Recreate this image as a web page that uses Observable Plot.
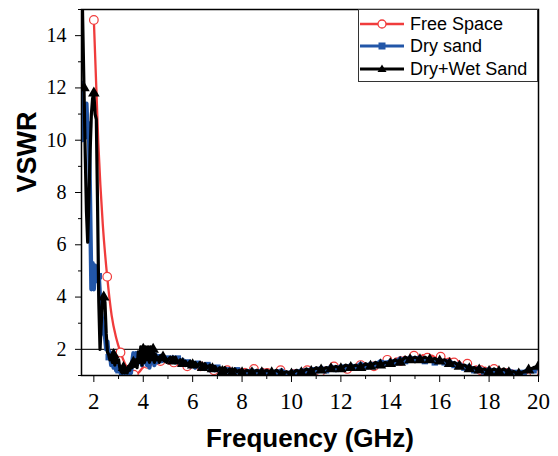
<!DOCTYPE html>
<html><head><meta charset="utf-8">
<script src="https://cdn.jsdelivr.net/npm/d3@7"></script>
<script src="https://cdn.jsdelivr.net/npm/@observablehq/plot@0.6"></script>
<style>
body{margin:0;background:#fff;}
#wrap{position:relative;width:558px;height:456px;}
#legend{position:absolute;left:358px;top:9px;width:180px;height:73px;border:1px solid #333;box-sizing:border-box;background:#fff;font-family:"Liberation Sans",Arial,sans-serif;font-size:18px;color:#000;}
.row{position:absolute;left:1px;height:22px;display:flex;align-items:center;white-space:nowrap;}
.row span{margin-left:6px;}
</style></head>
<body><div id="wrap"><div id="legend"></div></div>
<script>
// ---- data ----
const seriesNames = ["Free Space", "Dry sand", "Dry+Wet Sand"];
const xMajorTicks = [2, 4, 6, 8, 10, 12, 14, 16, 18, 20];
const xMinorTicks = [3, 5, 7, 9, 11, 13, 15, 17, 19];
const yMajorTicks = [2, 4, 6, 8, 10, 12, 14];
const yMinorTicks = [1, 3, 5, 7, 9, 11, 13, 15];

// Free Space: sampled every 0.18 GHz from 2 to 20
const freeSpaceVals = [14.6, 9.9, 6.8, 4.78, 3.3, 2.45, 1.88, 1.45, 1.15, 1.03,
  1.1, 1.3, 1.45, 1.55, 1.6, 1.55, 1.55, 1.45, 1.5, 1.4,
  1.45, 1.35, 1.4, 1.3, 1.35, 1.25, 1.3, 1.2, 1.25, 1.15,
  1.2, 1.1, 1.2, 1.1, 1.25, 1.1, 1.25, 1.1, 1.25, 1.1,
  1.2, 1.05, 1.2, 1.05, 1.15, 1.05, 1.15, 1.1, 1.2, 1.15,
  1.25, 1.15, 1.3, 1.2, 1.35, 1.25, 1.35, 1.25, 1.4, 1.3,
  1.4, 1.3, 1.45, 1.35, 1.5, 1.45, 1.6, 1.5, 1.65, 1.55,
  1.72, 1.62, 1.76, 1.66, 1.78, 1.68, 1.76, 1.68, 1.72, 1.6,
  1.65, 1.5, 1.55, 1.4, 1.45, 1.3, 1.35, 1.2, 1.3, 1.15,
  1.25, 1.15, 1.25, 1.1, 1.2, 1.05, 1.02, 1.05, 1.15, 1.12, 1.28];

// Sand series grid: 1.5-5.0 step 0.05, 5.1-8.0 step 0.1, 8.2-20 step 0.2
const drySandVals = [
  12.2, 10.0, 11.2, 10.4, 11.4, 10.1, 10.6, 7.5, 4.3, 5.3,
  4.3, 5.2, 5.1, 4.6, 4.8, 4.0, 3.4, 3.0, 2.6, 2.5,
  2.0, 2.3, 1.7, 1.9, 1.4, 1.7, 1.3, 1.6, 1.2, 1.5,
  1.2, 1.3, 1.05, 1.1, 1.0, 1.05, 1.0, 1.1, 1.0, 1.2,
  1.1, 1.5, 1.85, 1.8, 1.85, 1.6, 1.8, 1.5, 1.7, 1.4,
  1.75, 1.5, 1.8, 1.4, 1.9, 1.3, 1.8, 1.5, 1.7, 1.4,
  1.8, 1.5, 1.7, 1.6, 1.75, 1.55, 1.7, 1.6, 1.65, 1.55, 1.65,
  1.6, 1.7, 1.5, 1.65, 1.45, 1.6, 1.4, 1.5, 1.35, 1.45,
  1.3, 1.45, 1.3, 1.4, 1.25, 1.4, 1.2, 1.35, 1.2, 1.3,
  1.15, 1.25, 1.1, 1.2, 1.1, 1.2, 1.05, 1.2, 1.1, 1.15,
  1.1, 1.2, 1.1, 1.2, 1.05, 1.15, 1.1, 1.2, 1.05, 1.15,
  1.1, 1.2, 1.15, 1.25, 1.2, 1.3, 1.2, 1.35, 1.25, 1.35,
  1.3, 1.4, 1.3, 1.45, 1.35, 1.45, 1.4, 1.55, 1.45, 1.55,
  1.5, 1.65, 1.55, 1.7, 1.6, 1.7, 1.55, 1.65, 1.5, 1.6,
  1.5, 1.55, 1.4, 1.45, 1.3, 1.35, 1.2, 1.3, 1.15, 1.25,
  1.15, 1.2, 1.1, 1.2, 1.1, 1.15, 1.1, 1.25, 1.2, 1.3];

const dryWetVals = [
  17, 14.5, 12.0, 9.5, 7.3, 6.1, 7.8, 9.6, 11.0, 11.6,
  11.8, 11.0, 10.8, 7.5, 3.8, 2.0, 3.0, 3.9, 4.0, 3.8,
  2.6, 1.9, 1.8, 1.6, 1.75, 1.5, 1.8, 1.4, 1.7, 1.5,
  1.6, 1.3, 1.15, 1.1, 1.3, 1.1, 1.2, 1.1, 1.35, 1.2,
  1.4, 1.3, 1.5, 1.35, 1.6, 1.3, 1.9, 1.5, 2.1, 1.4,
  2.0, 1.5, 2.1, 1.6, 2.1, 1.5, 2.1, 1.6, 2.0, 1.5,
  1.8, 1.6, 1.7, 1.5, 1.75, 1.6, 1.7, 1.55, 1.65, 1.5, 1.6,
  1.7, 1.55, 1.7, 1.5, 1.6, 1.45, 1.55, 1.4, 1.55, 1.4,
  1.5, 1.35, 1.5, 1.3, 1.45, 1.3, 1.4, 1.25, 1.35, 1.2,
  1.3, 1.15, 1.3, 1.15, 1.25, 1.1, 1.25, 1.15, 1.2, 1.1,
  1.2, 1.1, 1.2, 1.1, 1.2, 1.1, 1.2, 1.05, 1.15, 1.05,
  1.2, 1.1, 1.25, 1.15, 1.3, 1.2, 1.3, 1.25, 1.35, 1.25,
  1.4, 1.3, 1.4, 1.3, 1.45, 1.35, 1.5, 1.4, 1.5, 1.45,
  1.6, 1.5, 1.7, 1.6, 1.7, 1.6, 1.7, 1.6, 1.65, 1.55,
  1.6, 1.45, 1.5, 1.35, 1.4, 1.25, 1.3, 1.2, 1.25, 1.15,
  1.25, 1.15, 1.25, 1.1, 1.15, 1.05, 1.15, 1.2, 1.3, 1.35];

// sampling grids (x positions of the read samples)
const freeFreq = d3.range(0, 101).map(i => +(2 + i * 0.18).toFixed(2));
const sandFreq = [
  ...d3.range(0, 71).map(i => +(1.5 + i * 0.05).toFixed(2)),
  ...d3.range(1, 31).map(i => +(5 + i * 0.1).toFixed(2)),
  ...d3.range(1, 61).map(i => +(8 + i * 0.2).toFixed(2))];

const RED = "#f03c3c", BLUE = "#2256a8", BLACK = "#000";
const SERIF = "'Liberation Serif', serif";
const SANS = "'Liberation Sans', Arial, sans-serif";

const free = freeFreq.map((f, i) => ({f, v: freeSpaceVals[i]}));
const dry = sandFreq.map((f, i) => ({f, v: drySandVals[i]}));
const wet = sandFreq.map((f, i) => ({f, v: dryWetVals[i]}));

const freeMarks = free.filter((d, i) => i % 3 === 0);
const dryMarks = dry.filter(d => Math.round(d.f * 100) % 40 === 20);
const wetMarks = wet.filter(d => Math.round(d.f * 100) % 40 === 0);

const plot = Plot.plot({
  width: 558, height: 456,
  marginLeft: 81, marginRight: 20, marginTop: 9, marginBottom: 81,
  x: {domain: [1.5, 20]},
  y: {domain: [1, 15]},
  style: {fontFamily: SERIF, color: "#000", background: "#fff"},
  marks: [
    Plot.axisX(xMajorTicks, {tickSize: 7, tickPadding: 10, fontSize: 23, fontFamily: SERIF, label: null}),
    Plot.axisX(xMinorTicks, {tickSize: 4, tickFormat: () => "", label: null}),
    Plot.axisY(yMajorTicks, {tickSize: 6, tickPadding: 9, fontSize: 20, fontFamily: SERIF, label: null}),
    Plot.axisY(yMinorTicks, {tickSize: 3, tickFormat: () => "", label: null}),
    Plot.ruleY([2], {stroke: "#222", strokeWidth: 1.3}),
    Plot.line(free, {x: "f", y: "v", stroke: RED, strokeWidth: 2.3, curve: "monotone-x", clip: true}),
    Plot.dot(freeMarks, {x: "f", y: "v", symbol: "circle", r: 4.3, fill: "white", stroke: RED, strokeWidth: 1.2, clip: true}),
    Plot.line(dry, {x: "f", y: "v", stroke: BLUE, strokeWidth: 4.3, clip: true}),
    Plot.dot(dryMarks, {x: "f", y: "v", symbol: "square", r: 3.6, fill: BLUE, clip: true}),
    Plot.line(wet, {x: "f", y: "v", stroke: BLACK, strokeWidth: 3.2, clip: true}),
    Plot.dot(wetMarks, {x: "f", y: "v", symbol: "triangle", r: 4.3, fill: BLACK, clip: true}),
    Plot.frame({stroke: "#000", strokeWidth: 1.5}),
    Plot.text(["Frequency (GHz)"], {text: d => d, frameAnchor: "bottom", lineAnchor: "middle", dy: 63,
      fontSize: 26, fontWeight: "bold", fontFamily: SANS}),
    Plot.text(["VSWR"], {text: d => d, frameAnchor: "left", lineAnchor: "middle", rotate: -90, dx: -54,
      fontSize: 27, fontWeight: "bold", fontFamily: SANS})
  ]
});
const wrap = document.getElementById("wrap");
wrap.insertBefore(plot, wrap.firstChild);

// legend (HTML overlay)
const legend = document.getElementById("legend");
const styles = [
  {color: RED, marker: '<circle cx="22" cy="11" r="4" fill="white" stroke="' + RED + '" stroke-width="1.3"/>', w: 2.3},
  {color: BLUE, marker: '<rect x="18.5" y="7.5" width="7" height="7" fill="' + BLUE + '"/>', w: 3},
  {color: BLACK, marker: '<path d="M22,6.5 L26.5,14 L17.5,14 Z" fill="#000"/>', w: 3}
];
const rowTops = [3, 25, 48];
seriesNames.forEach((name, i) => {
  const row = document.createElement("div");
  row.className = "row";
  row.style.top = rowTops[i] + "px";
  row.innerHTML = '<svg width="44" height="22"><line x1="0" x2="44" y1="11" y2="11" stroke="' + styles[i].color +
    '" stroke-width="' + styles[i].w + '"/>' + styles[i].marker + '</svg><span>' + name + '</span>';
  legend.appendChild(row);
});
</script>
</body></html>
